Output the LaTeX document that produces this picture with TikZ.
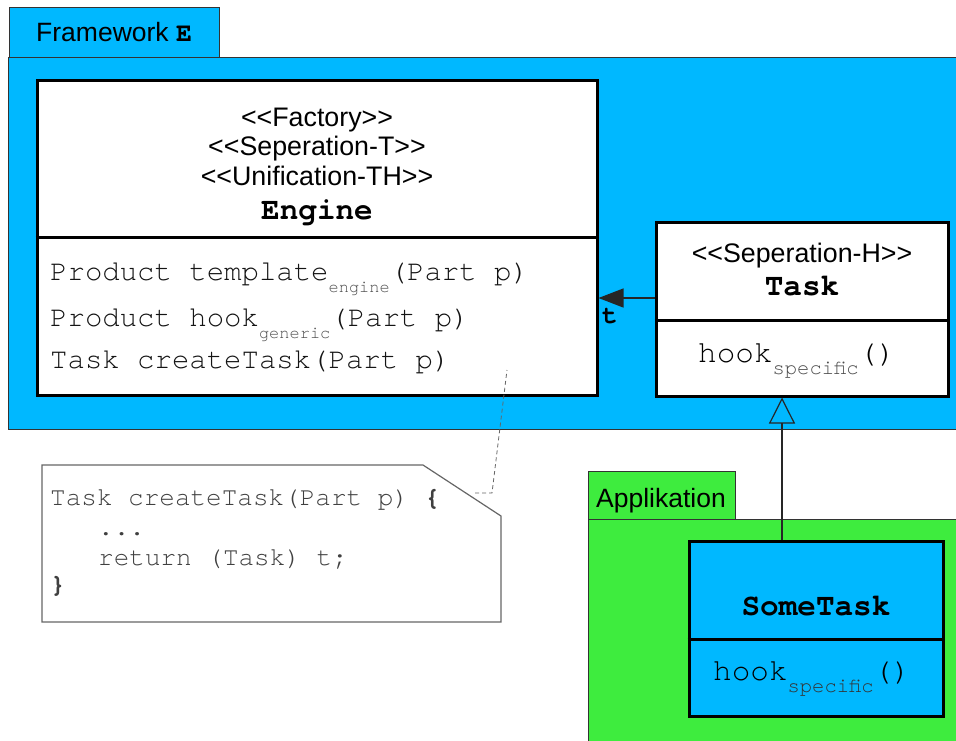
\documentclass[tikz,border=0pt]{standalone}
\usepackage{fontspec}
\setmainfont{Liberation Sans}
\setmonofont{texgyrecursor}[Extension=.otf, UprightFont=*-regular, BoldFont=*-bold]
\usetikzlibrary{arrows.meta}

\definecolor{fwblue}{RGB}{0,184,255}
\definecolor{appgreen}{RGB}{62,236,62}

\newcommand\pkgfont{\fontsize{26.5}{30}\selectfont}
\newcommand\stereofont{\fontsize{26.8}{30}\selectfont}
\newcommand\titlefont{\ttfamily\bfseries\fontsize{31}{36}\selectfont}
\newcommand\attrfont{\ttfamily\fontsize{29}{34}\selectfont\color{black!92}}
\newcommand\hookfont{\ttfamily\fontsize{31}{34}\selectfont}
\newcommand\notefont{\ttfamily\fontsize{26}{30}\selectfont\color{black!75}}
\newcommand\subtxt[3][17]{\raisebox{-12pt}{\fontsize{#1}{#1}\selectfont\color{#2}#3}}

\begin{document}
\begin{tikzpicture}[x=1pt,y=-1pt,
  pkg/.style={draw=black!80, line width=1pt},
  classbox/.style={draw=black, line width=3pt, inner sep=0pt, fill=white},
  divider/.style={draw=black, line width=3pt},
  txt/.style={inner sep=0pt, anchor=base},
  ltxt/.style={inner sep=0pt, anchor=base west},
  assoc/.style={draw=black!85, line width=1.3pt, -{Triangle[length=25pt,width=19pt]}},
  generalize/.style={draw=black!85, line width=1.2pt, -{Triangle[open,length=26pt,width=26pt]}},
  notelink/.style={draw=black!60, line width=0.8pt, dash pattern=on 4pt off 3pt},
  notebox/.style={draw=black!60, fill=white, line width=1.2pt}]

\useasboundingbox (0,0) rectangle (956,740);
\clip (0,0) rectangle (956,740);

% package Framework E
\filldraw[pkg, fill=fwblue] (9,7) rectangle (219,57);
\filldraw[pkg, fill=fwblue] (8,57) rectangle (970,429);
\node[ltxt] (fwlabel) at (36,41) {\pkgfont Framework {\ttfamily\bfseries E}};

% package Applikation
\filldraw[pkg, fill=appgreen] (588,471) rectangle (735,519);
\filldraw[pkg, fill=appgreen] (588,519) rectangle (970,760);
\node[ltxt] (applabel) at (596,507) {\pkgfont Applikation};

% note with folded corner
\filldraw[notebox] (42,465) -- (423,465) -- (501,516) -- (501,622) -- (42,622) -- cycle;
\node[ltxt] (note1) at (50,505) {\notefont Task createTask(Part p) {\bfseries\{}};
\node[ltxt] (note2) at (98,535) {\notefont ...};
\node[ltxt] (note3) at (98,565) {\notefont return (Task) t;};
\node[ltxt] (note4) at (50,592) {\notefont\bfseries\}};

% class Engine
\node[classbox, minimum width=560pt, minimum height=315pt] (engine) at (317,237.5) {};
\draw[divider] (engine.west) -- (engine.east);
\node[txt] (engst1) at (317,126) {\stereofont <{}<Factory>{}>};
\node[txt] (engst2) at (317,155) {\stereofont <{}<Seperation-T>{}>};
\node[txt] (engst3) at (317,185) {\stereofont <{}<Unification-TH>{}>};
\node[txt] (engname) at (317,219) {\titlefont Engine};
\node[ltxt] (engop1) at (50,280) {\attrfont Product template\subtxt{black!70}{engine}(Part p)};
\node[ltxt] (engop2) at (50,326) {\attrfont Product hook\subtxt{black!70}{generic}(Part p)};
\node[ltxt] (engop3) at (50,368) {\attrfont Task createTask(Part p)};

% class Task
\node[classbox, minimum width=292pt, minimum height=174pt] (task) at (802,309) {};
\draw[divider] ([yshift=-11pt]task.west) -- ([yshift=-11pt]task.east);
\node[txt] (taskst) at (802,262) {\stereofont <{}<Seperation-H>{}>};
\node[txt] (taskname) at (802,295) {\titlefont Task};
\node[ltxt] (taskop) at (698,362) {\hookfont hook\subtxt[20.5]{black!70}{specific}()};

% class SomeTask
\node[classbox, fill=fwblue, minimum width=254pt, minimum height=175pt] (some) at (816,628.5) {};
\draw[divider] ([yshift=-10.5pt]some.west) -- ([yshift=-10.5pt]some.east);
\node[txt] (somename) at (816,615) {\titlefont SomeTask};
\node[ltxt] (someop) at (713,680) {\hookfont hook\subtxt[20.5]{black!80}{specific}()};

% association Task -> Engine, role t
\draw[assoc] ([yshift=11pt]task.west) -- ([yshift=11pt]task.west -| engine.east);
\node[txt] (role) at (610,323) {\ttfamily\bfseries\fontsize{26}{26}\selectfont t};

% generalization SomeTask -> Task
\draw[generalize] ([xshift=-34pt]some.north) -- ([xshift=-34pt]some.north |- task.south);

% note link
\coordinate (notepin) at (475,493);
\coordinate (enginepin) at (507,370);
\draw[notelink] (notepin) -- ++(17,0) -- (enginepin);
\end{tikzpicture}
\end{document}
